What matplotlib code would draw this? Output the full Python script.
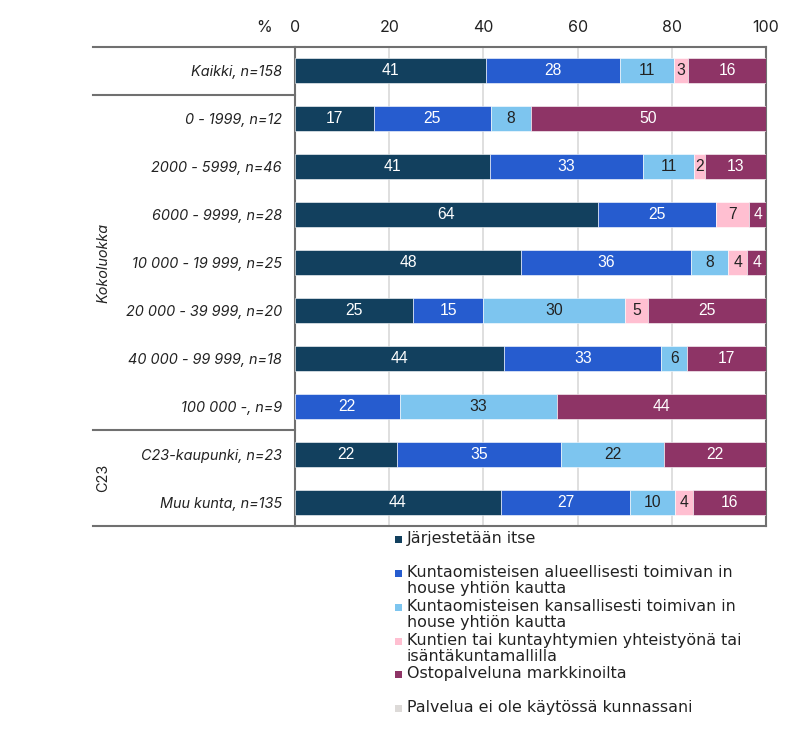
import math
import matplotlib
matplotlib.use("Agg")
import matplotlib.pyplot as plt
from matplotlib.patches import Rectangle

categories = ["Kaikki, n=158", "0 - 1999, n=12", "2000 - 5999, n=46", "6000 - 9999, n=28",
              "10 000 - 19 999, n=25", "20 000 - 39 999, n=20", "40 000 - 99 999, n=18",
              "100 000 -, n=9", "C23-kaupunki, n=23", "Muu kunta, n=135"]
series_names = ["Järjestetään itse",
                "Kuntaomisteisen alueellisesti toimivan in\nhouse yhtiön kautta",
                "Kuntaomisteisen kansallisesti toimivan in\nhouse yhtiön kautta",
                "Kuntien tai kuntayhtymien yhteistyönä tai\nisäntäkuntamallilla",
                "Ostopalveluna markkinoilta",
                "Palvelua ei ole käytössä kunnassani"]
jarjestetaan_itse = [40.51, 16.67, 41.30, 64.29, 48.0, 25.0, 44.44, 0.0, 21.74, 43.70]
alueellinen_inhouse = [28.48, 25.0, 32.61, 25.0, 36.0, 15.0, 33.33, 22.22, 34.78, 27.41]
kansallinen_inhouse = [11.39, 8.33, 10.87, 0.0, 8.0, 30.0, 5.56, 33.33, 21.74, 9.63]
yhteistyo = [3.16, 0.0, 2.17, 7.14, 4.0, 5.0, 0.0, 0.0, 0.0, 3.70]
ostopalvelu = [16.46, 50.0, 13.04, 3.57, 4.0, 25.0, 16.67, 44.44, 21.74, 15.56]
ei_kaytossa = [0.0] * 10
xticks = [0, 20, 40, 60, 80, 100]
groups = [("Kokoluokka", 1, 7, True), ("C23", 8, 9, False)]

colors = ["#12405E", "#265CCF", "#7DC5EF", "#FFBFD1", "#8E3466", "#DDDAD8"]
text_colors = ["white", "white", "#222222", "#222222", "white", "#222222"]
all_series = [jarjestetaan_itse, alueellinen_inhouse, kansallinen_inhouse, yhteistyo, ostopalvelu, ei_kaytossa]

fig = plt.figure(figsize=(7.9, 7.35), dpi=100)
ax = fig.add_axes([295/790, 1-526/735, 471/790, 479/735])

ypos = list(range(len(categories)))
left = [0.0] * len(categories)
for vals, col, tcol in zip(all_series, colors, text_colors):
    bars = ax.barh(ypos, vals, left=left, height=0.52, color=col, edgecolor="white", linewidth=0.4, zorder=3)
    for b, v, l in zip(bars, vals, left):
        if v > 0:
            ax.text(l + v/2, b.get_y() + b.get_height()/2, str(int(math.floor(v + 0.5))),
                    ha="center", va="center", color=tcol, fontsize=11.3, family="Liberation Sans", zorder=4)
    left = [a + b for a, b in zip(left, vals)]

ax.set_xlim(0, 100)
ax.set_ylim(len(categories) - 0.5, -0.5)
ax.set_xticks(xticks)
ax.xaxis.tick_top()
ax.tick_params(axis="x", length=0, pad=9, labelsize=11.5, labelcolor="#222222")
for lbl in ax.get_xticklabels():
    lbl.set_family("Inter")
ax.set_yticks(ypos)
ax.set_yticklabels(categories, fontsize=10.4, style="italic", family="Inter", color="#222222")
ax.tick_params(axis="y", length=0, pad=9.5)
ax.grid(axis="x", color="#D9D9D9", linewidth=1.2, zorder=0)
ax.set_axisbelow(True)
for s in ax.spines.values():
    s.set_color("#707070")
    s.set_linewidth(1.5)

ax.text((264 - 295) / 471, 1.0 + 20/479, "%", transform=ax.transAxes, ha="center", va="center",
        fontsize=11.5, family="Inter", color="#222222")

# group separator lines
xl = (93 - 295) / 471
trans = ax.get_yaxis_transform()
for yb in [-0.5, 0.5, 7.5, 9.5]:
    ax.plot([xl, 0], [yb, yb], transform=trans, color="#707070", linewidth=1.5, clip_on=False, zorder=5)
for name, a, b, ital in groups:
    ax.text((103 - 295) / 471, (a + b) / 2, name, transform=trans, rotation=90, ha="center", va="center",
            fontsize=10.4, family="Inter", style="italic" if ital else "normal", color="#222222")

# legend
ys = [539, 573, 607, 641, 674, 708]
for name, col, y in zip(series_names, colors, ys):
    fig.patches.append(Rectangle((395/790, 1-(y+3.5)/735), 7/790, 7/735, transform=fig.transFigure,
                                 facecolor=col, edgecolor="none"))
    fig.text(407/790, 1-(y-8)/735, name, ha="left", va="top", fontsize=11.4, family="DejaVu Sans",
             color="#222222", linespacing=1.1)

fig.savefig("out.png", dpi=100)
